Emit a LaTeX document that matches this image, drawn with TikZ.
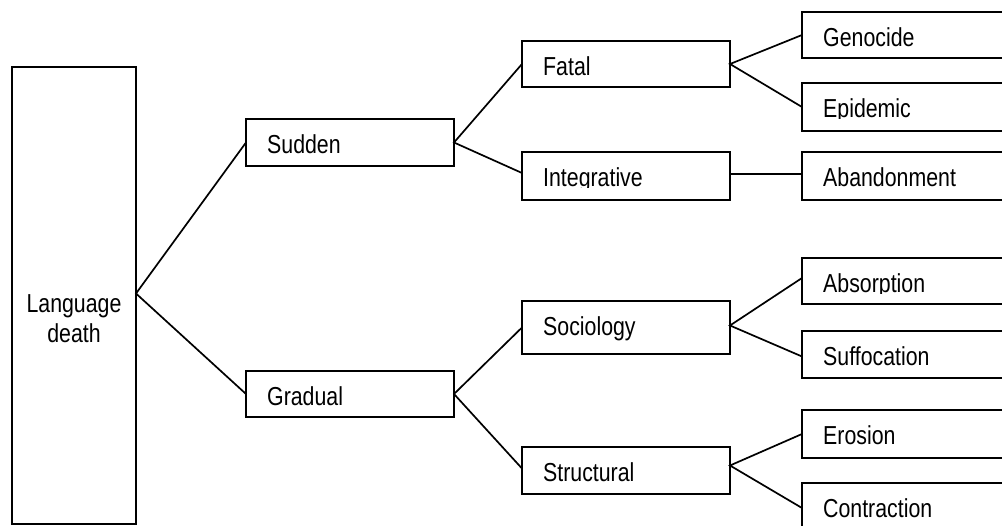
\documentclass[tikz,border=0pt]{standalone}
\usepackage{fontspec}
\setmainfont{Liberation Sans}[FakeStretch=0.82]
\usetikzlibrary{calc}

\tikzset{
  box/.style={draw, line width=1.7pt, rectangle, inner sep=0pt, outer sep=0pt, anchor=north west},
  lbl/.style={anchor=base west, inner sep=0pt, font=\fontsize{26}{30}\selectfont},
  rootlbl/.style={anchor=base, inner sep=0pt, font=\fontsize{26}{30}\selectfont},
  link/.style={line width=1.7pt},
}

% label placed inside a box: 21 units in from the left, baseline 35 below the top
\newcommand\boxtext[2]{\node[lbl] (#1-t) at ($(#1.north west)+(21,35)$) {#2};}
% same, with descenders cut off at the box's text area
\newcommand\boxtextcut[2]{%
  \begin{scope}
    \clip ($(#1.north west)+(0,0)$) rectangle ($(#1.north east)+(0,36)$);
    \node[lbl] (#1-t) at ($(#1.north west)+(21,35)$) {#2};
  \end{scope}}

\begin{document}
\begin{tikzpicture}[x=1pt, y=-1pt]
  \useasboundingbox (0,0) rectangle (1002,526);
  \fill[white] (0,0) rectangle (1002,526);
  \clip (0,0) rectangle (1002,526);

  % root
  \node[box, minimum width=124pt, minimum height=457pt] (ld) at (12,67) {};
  \node[rootlbl] (ld-a) at (74,313) {Language};
  \node[rootlbl] (ld-b) at (74,343) {death};

  % second level
  \node[box, minimum width=208pt, minimum height=47pt] (sudden)  at (246,119) {};
  \node[box, minimum width=208pt, minimum height=46pt] (gradual) at (246,371) {};

  % third level
  \node[box, minimum width=208pt, minimum height=46pt] (fatal)  at (522,41)  {};
  \node[box, minimum width=208pt, minimum height=48pt] (integ)  at (522,152) {};
  \node[box, minimum width=208pt, minimum height=53pt] (socio)  at (522,301) {};
  \node[box, minimum width=208pt, minimum height=47pt] (struct) at (522,447) {};

  % leaves
  \node[box, minimum width=220pt, minimum height=46pt] (geno)   at (802,12)  {};
  \node[box, minimum width=220pt, minimum height=48pt] (epid)   at (802,83)  {};
  \node[box, minimum width=220pt, minimum height=48pt] (aband)  at (802,152) {};
  \node[box, minimum width=220pt, minimum height=46pt] (absorp) at (802,258) {};
  \node[box, minimum width=220pt, minimum height=47pt] (suffoc) at (802,331) {};
  \node[box, minimum width=220pt, minimum height=48pt] (eros)   at (802,410) {};
  \node[box, minimum width=220pt, minimum height=60pt] (contr)  at (802,483) {};

  % labels
  \boxtext{sudden}{Sudden}
  \boxtext{gradual}{Gradual}
  \boxtext{fatal}{Fatal}
  \boxtextcut{integ}{Integrative}
  \boxtext{socio}{Sociology}
  \boxtext{struct}{Structural}
  \boxtext{geno}{Genocide}
  \boxtextcut{epid}{Epidemic}
  \boxtext{aband}{Abandonment}
  \boxtextcut{absorp}{Absorption}
  \boxtext{suffoc}{Suffocation}
  \boxtext{eros}{Erosion}
  \boxtext{contr}{Contraction}

  % connectors
  \draw[link] (sudden.west) -- ([yshift=2pt]ld.east) -- (gradual.west);
  \draw[link] (fatal.west) -- (sudden.east) -- ([yshift=3pt]integ.west);
  \draw[link] (socio.west) -- (gradual.east) -- ([yshift=2pt]struct.west);
  \draw[link] (geno.west) -- (fatal.east) -- (epid.west);
  \draw[link] ([yshift=2pt]integ.east) -- ([yshift=2pt]aband.west);
  \draw[link] ([yshift=3pt]absorp.west) -- ([yshift=2pt]socio.east) -- ([yshift=-2pt]suffoc.west);
  \draw[link] (eros.west) -- ([yshift=5pt]struct.east) -- ([yshift=5pt]contr.west);
\end{tikzpicture}
\end{document}
